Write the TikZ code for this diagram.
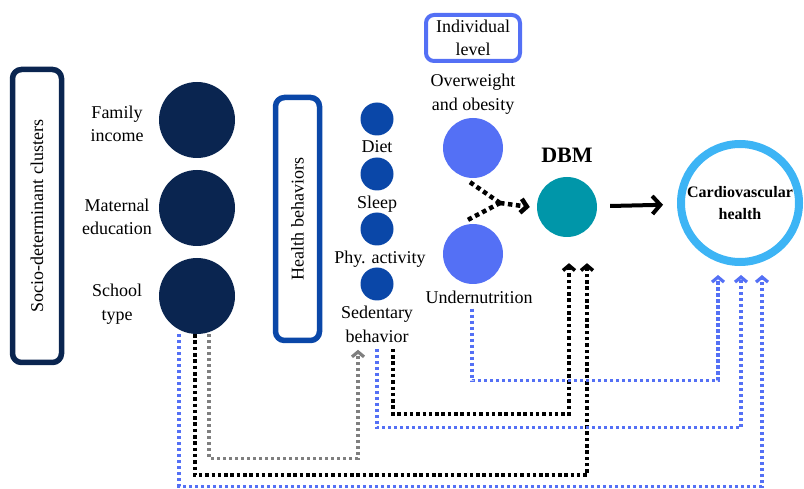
\documentclass[tikz,border=0pt]{standalone}
\usepackage{fontspec}
\setmainfont{Liberation Serif}
\usetikzlibrary{positioning,arrows.meta}

\definecolor{navy}{HTML}{0A2550}
\definecolor{hbblue}{HTML}{0A47A8}
\definecolor{indblue}{HTML}{5470F5}
\definecolor{dbmteal}{HTML}{0096A9}
\definecolor{cvblue}{HTML}{3DB4F5}
\definecolor{dotgray}{HTML}{7F7F7F}

\tikzset{
  lbl/.style={font=\fontsize{18}{23.5}\selectfont, align=center, inner sep=0pt},
  sesdot/.style={circle, fill=navy, minimum size=76pt, inner sep=0pt},
  hbdot/.style={circle, fill=hbblue, minimum size=33pt, inner sep=0pt},
  nutdot/.style={circle, fill=indblue, minimum size=60pt, inner sep=0pt},
  dbmdot/.style={circle, fill=dbmteal, minimum size=60pt, inner sep=0pt},
  cvring/.style={circle, draw=cvblue, line width=8pt, minimum size=118pt, inner sep=0pt,
    align=center, font=\bfseries\fontsize{16}{22.5}\selectfont},
  groupbox/.style={rounded corners=9pt, inner sep=0pt, font=\fontsize{18}{23.5}\selectfont, align=center},
  bluedot/.style={draw=indblue, line width=3.2pt, dash pattern=on 3.2pt off 2.8pt,
    -{Straight Barb[length=5pt,width=12pt]}},
  blackdot/.style={draw=black, line width=3.5pt, dash pattern=on 3.5pt off 2.8pt,
    -{Straight Barb[length=5pt,width=12pt]}},
  graydot/.style={draw=dotgray, line width=3.2pt, dash pattern=on 3.2pt off 2.8pt,
    -{Straight Barb[length=5pt,width=12pt]}},
  meetdot/.style={draw=black, line width=4.5pt, dash pattern=on 4.5pt off 3.5pt}
}

\begin{document}
\begin{tikzpicture}[x=1pt,y=-1pt,on grid,auto]
\useasboundingbox (0,0) rectangle (804,489);

% group boxes
\node[groupbox, draw=navy, line width=5.5pt, rotate=90, minimum width=293pt, minimum height=49pt]
  (sdc) at (37,216) {Socio-determinant clusters};
\node[groupbox, draw=hbblue, line width=5.5pt, rotate=90, minimum width=243pt, minimum height=44pt]
  (hb) at (297.5,219) {Health behaviors};

% socio-determinants
\node[sesdot] (fi) at (197,120) {};
\node[sesdot] (me) [below=88pt of fi] {};
\node[sesdot] (st) [below=88pt of me] {};
\node[lbl] (fil) [left=80pt of fi, yshift=-4pt] {Family\\income};
\node[lbl] (mel) [left=80pt of me, yshift=-9pt] {Maternal\\education};
\node[lbl] (stl) [left=80pt of st, yshift=-8pt] {School\\type};

% health behaviors
\node[hbdot] (diet) at (377,119) {};
\node[hbdot] (sleep) [below=55pt of diet] {};
\node[hbdot] (phy) [below=55pt of sleep] {};
\node[hbdot] (sed) [below=55pt of phy] {};
\node[lbl] (dietl) [below=28pt of diet] {Diet};
\node[lbl] (sleepl) [below=30pt of sleep] {Sleep};
\node[lbl] (phyl) [below=30pt of phy, xshift=3pt] {Phy. activity};
\node[lbl] (sedl) [below=40.5pt of sed] {Sedentary\\behavior};

% individual level
\node[nutdot] (ovw) at (473,148) {};
\node[nutdot] (und) [below=106pt of ovw] {};
\node[groupbox, draw=indblue, line width=4pt, rounded corners=8pt, minimum width=94pt, minimum height=46pt]
  (ind) [above=110pt of ovw] {Individual\\level};
\node[lbl] (ovwl) [above=54pt of ovw] {Overweight\\and obesity};
\node[lbl] (undl) [below=43pt of und, xshift=6pt] {Undernutrition};

% DBM and outcome
\node[dbmdot] (dbm) at (567,207) {};
\node[font=\bfseries\fontsize{22}{26}\selectfont, inner sep=0pt] (dbml) [above=52pt of dbm] {DBM};
\node[cvring] (cvh) at (740,203) {Cardiovascular\\health};

\coordinate (meet) at (500,203);
\draw[meetdot] ([xshift=-3pt,yshift=-4pt]ovw.south) -- (meet);
\draw[meetdot] ([xshift=-5pt,yshift=4pt]und.north) -- (meet);
\draw[meetdot, -{Straight Barb[length=6pt,width=14pt]}] (meet) -- ([xshift=-7pt]dbm.west);
\draw[line width=4pt, -{Straight Barb[length=8pt,width=18pt]}, shorten <=13pt, shorten >=14pt]
  (dbm) -- (cvh);

% arrow ends
\coordinate (d1) at ([xshift=2pt,yshift=-26pt]dbm.south);
\coordinate (d2) at ([xshift=20pt,yshift=-26pt]dbm.south);
\coordinate (c1) at ([xshift=-22pt,yshift=-9pt]cvh.south);
\coordinate (c2) at ([xshift=1pt,yshift=-9pt]cvh.south);
\coordinate (c3) at ([xshift=22pt,yshift=-9pt]cvh.south);
\coordinate (sedin) at ([xshift=-19pt,yshift=-7pt]sedl.south);

% paths
\draw[bluedot] ([xshift=-18pt]st.south) -- ++(0,152) -| (c3);
\draw[blackdot] ([xshift=-2pt]st.south) -- ++(0,141) -| (d2);
\draw[graydot] ([xshift=12pt]st.south) -- ++(0,124) -| (sedin);
\draw[blackdot] ([xshift=16pt,yshift=-6pt]sedl.south) -- ++(0,65) -| (d1);
\draw[bluedot] ([yshift=-6pt]sedl.south) -- ++(0,79) -| (c2);
\draw[bluedot] ([xshift=-7pt,yshift=-5pt]undl.south) -- ++(0,72) -| (c1);
\end{tikzpicture}
\end{document}
